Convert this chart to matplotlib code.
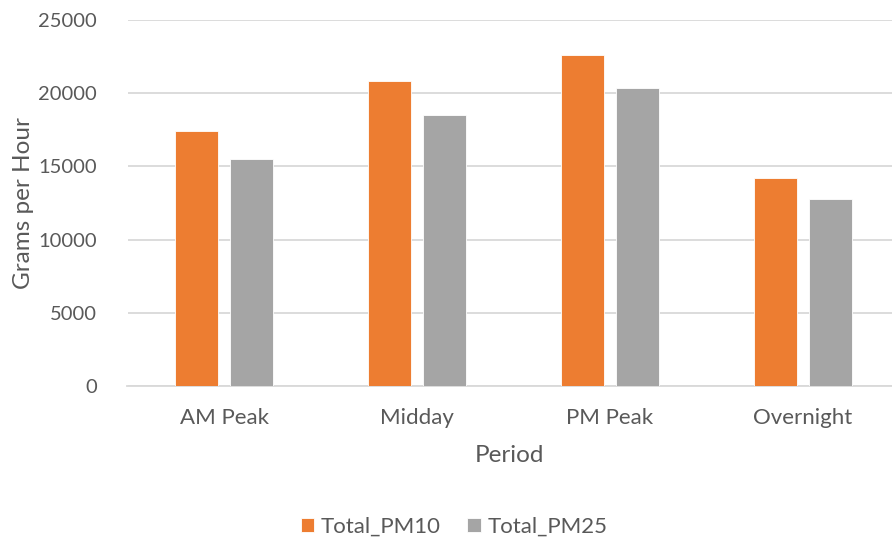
import matplotlib
matplotlib.use("Agg")
import matplotlib.pyplot as plt
import numpy as np

categories = ["AM Peak", "Midday", "PM Peak", "Overnight"]
pm10 = [17400, 20800, 22600, 14200]
pm25 = [15500, 18500, 20350, 12800]
series_names = ["Total_PM10", "Total_PM25"]
yticks = [0, 5000, 10000, 15000, 20000, 25000]

plt.rcParams['font.family'] = ['Lato', 'DejaVu Sans']
text_color = "#595959"

fig = plt.figure(figsize=(8.92, 5.40), dpi=100)
ax = fig.add_axes([127.5/892, 1-386/540, 1-127.5/892, 366/540])

x = np.arange(len(categories))
w = 0.223
off = 0.1425
ax.bar(x - off, pm10, width=w, color="#ED7D31", edgecolor="white", linewidth=0.6, label=series_names[0], zorder=3)
ax.bar(x + off, pm25, width=w, color="#A5A5A5", edgecolor="white", linewidth=0.6, label=series_names[1], zorder=3)

ax.set_ylim(0, 25000)
ax.set_xlim(-0.5, 3.5 - 7.5/193)
ax.set_yticks(yticks)
ax.set_yticklabels([str(v) for v in yticks])
ax.set_xticks(x)
ax.set_xticklabels(categories)
ax.yaxis.grid(True, color="#D9D9D9", linewidth=1.3, zorder=0)
ax.set_axisbelow(True)
for s in ["top", "right", "left"]:
    ax.spines[s].set_visible(False)
ax.spines["bottom"].set_color("#D9D9D9")
ax.spines["bottom"].set_linewidth(1.3)
ax.tick_params(axis="y", length=0, labelsize=14.5, colors=text_color, pad=22)
ax.tick_params(axis="x", length=0, labelsize=16, colors=text_color, pad=16)

ax.set_ylabel("Grams per Hour", fontsize=17.5, color=text_color, labelpad=3)
ax.set_xlabel("Period", fontsize=17.5, color=text_color, labelpad=12)

fig.legend(loc="center", bbox_to_anchor=(454/892, 1-527/540), ncol=2, frameon=False,
           fontsize=16, labelcolor=text_color, handlelength=0.6, handleheight=0.6,
           handletextpad=0.3, columnspacing=1.2)

fig.savefig("out.png", dpi=100)
